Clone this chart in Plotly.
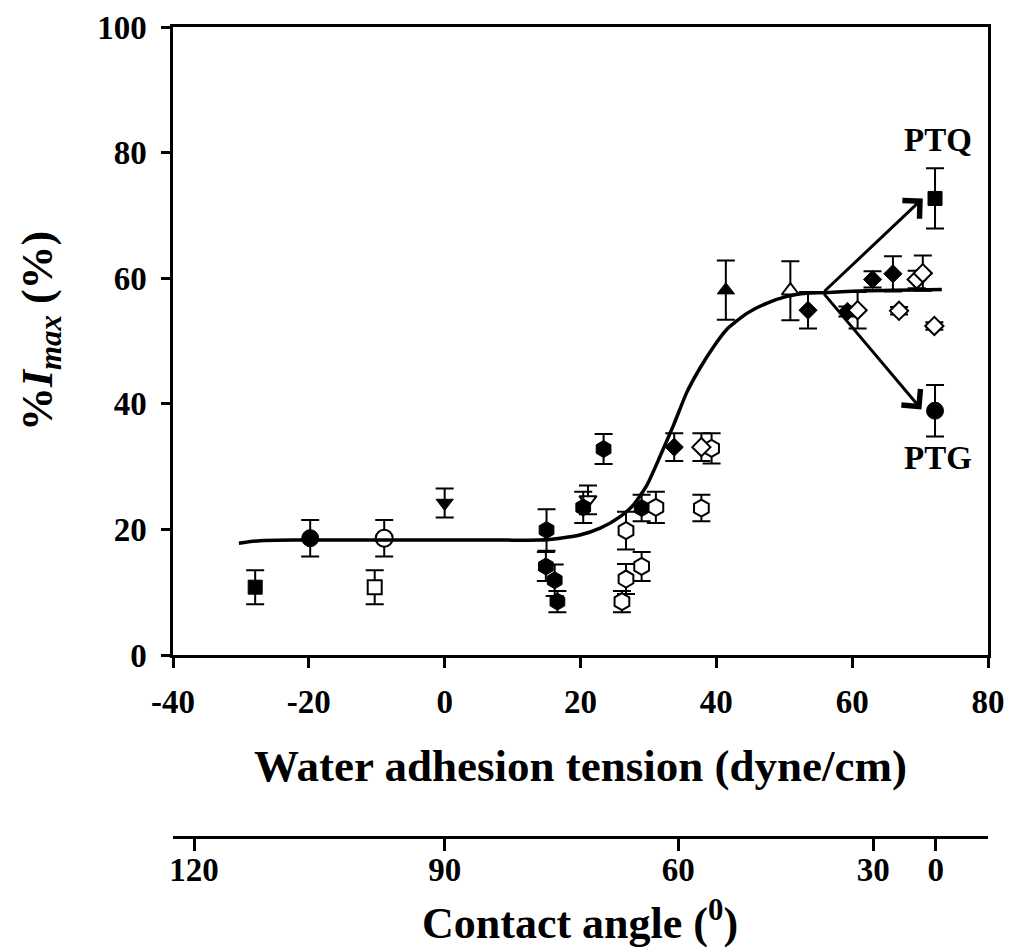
import plotly.graph_objects as go

# ---------------- data ----------------
filled_square_x = [-27.9, 72.2]
filled_square_y = [10.8, 72.7]
filled_square_err = [2.7, 4.8]

open_square_x = [-10.3]
open_square_y = [10.8]
open_square_err = [2.7]

filled_circle_x = [-19.8, 72.2]
filled_circle_y = [18.6, 38.9]
filled_circle_err = [2.9, 4.1]

open_circle_x = [-8.9]
open_circle_y = [18.6]
open_circle_err = [2.9]

filled_tri_down_x = [0.0]
filled_tri_down_y = [24.2]
filled_tri_down_err = [2.3]

open_tri_down_x = [21.1]
open_tri_down_y = [24.7]
open_tri_down_err = [2.3]

filled_hex_x = [15.0, 14.9, 16.2, 16.6, 20.4, 23.4, 29.0]
filled_hex_y = [19.9, 14.1, 11.9, 8.5, 23.5, 32.8, 23.4]
filled_hex_err = [3.3, 2.3, 2.5, 1.7, 2.5, 2.4, 2.1]

open_hex_x = [26.1, 26.7, 29.0, 26.7, 31.1, 37.8, 39.3]
open_hex_y = [8.5, 12.1, 14.1, 19.8, 23.5, 23.4, 32.9]
open_hex_err = [1.7, 2.4, 2.3, 3.0, 2.5, 2.1, 2.4]

filled_tri_up_x = [41.4]
filled_tri_up_y = [58.1]
filled_tri_up_err = [4.7]

open_tri_up_x = [50.9]
open_tri_up_y = [58.0]
open_tri_up_err = [4.7]

filled_diamond_x = [33.8, 53.5, 59.3, 63.0, 66.0]
filled_diamond_y = [33.1, 54.9, 54.7, 59.8, 60.7]
filled_diamond_err = [2.2, 2.9, 0.8, 1.3, 2.8]

open_diamond_x = [37.8, 60.8, 66.9, 69.5, 70.4, 72.1]
open_diamond_y = [33.1, 54.9, 54.8, 59.8, 60.8, 52.4]
open_diamond_err = [2.2, 2.9, 0.6, 1.4, 2.8, 0.6]

# fitted curve, points
curve_x = [-30.3, -27.2, -21.3, -6.6, 8.2, 14.0, 17.0, 19.9, 22.9, 25.8, 27.8,
           29.8, 31.7, 33.7, 35.6, 37.6, 39.6, 41.5, 44.5, 47.4, 50.4, 53.3,
           55.8, 62.1, 73.2]
curve_y = [17.8, 18.2, 18.3, 18.3, 18.3, 18.3, 18.6, 19.1, 20.2, 22.0, 23.9,
           27.1, 31.6, 36.6, 41.7, 45.7, 49.1, 51.8, 54.4, 56.0, 57.1, 57.6,
           57.7, 58.0, 58.2]

# arrows (tail on the curve, heads at PTQ / PTG)
arrow_tail = (55.7, 57.7)
arrow_heads = [(70.4, 72.7), (70.2, 39.1)]
point_labels = ["PTQ", "PTG"]
point_label_pos = [(72.6, 82.0), (72.6, 31.4)]

# x ticks / y ticks
x_ticks = [-40, -20, 0, 20, 40, 60, 80]
x_tick_text = ["-40", "-20", "0", "20", "40", "60", "80"]
y_ticks = [0, 20, 40, 60, 80, 100]
# secondary (contact angle) axis: tick positions in adhesion-tension units
angle_tick_pos = [-36.9, 0.0, 34.4, 63.1, 72.3]
angle_tick_text = ["120", "90", "60", "30", "0"]

FONT = "Liberation Serif, Times New Roman, serif"

# ---------------- figure ----------------
fig = go.Figure()

series = [
    (filled_square_x, filled_square_y, filled_square_err, "square", 14, True),
    (open_square_x, open_square_y, open_square_err, "square", 14, False),
    (filled_circle_x, filled_circle_y, filled_circle_err, "circle", 17, True),
    (open_circle_x, open_circle_y, open_circle_err, "circle", 17, False),
    (filled_tri_down_x, filled_tri_down_y, filled_tri_down_err, "triangle-down", 15, True),
    (open_tri_down_x, open_tri_down_y, open_tri_down_err, "triangle-down", 15, False),
    (filled_hex_x, filled_hex_y, filled_hex_err, "hexagon", 17, True),
    (open_hex_x, open_hex_y, open_hex_err, "hexagon", 17, False),
    (filled_tri_up_x, filled_tri_up_y, filled_tri_up_err, "triangle-up", 15, True),
    (open_tri_up_x, open_tri_up_y, open_tri_up_err, "triangle-up", 15, False),
    (filled_diamond_x, filled_diamond_y, filled_diamond_err, "diamond", 14, True),
    (open_diamond_x, open_diamond_y, open_diamond_err, "diamond", 14, False),
]

for xs, ys, es, sym, sz, filled in series:
    fig.add_trace(go.Scatter(
        x=xs, y=ys, mode="markers",
        marker=dict(symbol=sym, size=sz,
                    color="black" if filled else "white",
                    line=dict(color="black", width=1 if filled else 2)),
        error_y=dict(type="data", array=es, visible=True, color="black",
                     thickness=2, width=9),
        showlegend=False, hoverinfo="skip",
    ))

fig.add_trace(go.Scatter(
    x=curve_x, y=curve_y, mode="lines",
    line=dict(color="black", width=3.5, shape="spline", smoothing=0.6),
    showlegend=False, hoverinfo="skip",
))

# invisible trace to activate the secondary x-axis
fig.add_trace(go.Scatter(
    x=[x_ticks[0], x_ticks[-1]], y=[None, None], xaxis="x2", yaxis="y",
    mode="markers", marker=dict(opacity=0), showlegend=False, hoverinfo="skip",
))

annotations = []
for (hx, hy) in arrow_heads:
    annotations.append(dict(
        x=hx, y=hy, ax=arrow_tail[0], ay=arrow_tail[1],
        xref="x", yref="y", axref="x", ayref="y",
        showarrow=True, arrowhead=4, arrowsize=1.6, arrowwidth=3,
        arrowcolor="black", text="",
    ))
for lab, (lx, ly) in zip(point_labels, point_label_pos):
    annotations.append(dict(
        x=lx, y=ly, xref="x", yref="y", text=lab, showarrow=False,
        font=dict(family=FONT, size=33, color="black", weight="bold"),
        xanchor="center", yanchor="middle",
    ))

H = 952
TOP = 27
paper_h = H - TOP

def py(pix):
    return (H - pix) / paper_h

annotations.append(dict(
    x=0.5, y=py(766), xref="paper", yref="paper",
    text="Water adhesion tension (dyne/cm)", showarrow=False,
    font=dict(family=FONT, size=45, color="black", weight="bold"),
    xanchor="center", yanchor="middle",
))
annotations.append(dict(
    x=(580 - 173) / 815, y=py(920), xref="paper", yref="paper",
    text="Contact angle (<sup>0</sup>)", showarrow=False,
    font=dict(family=FONT, size=44, color="black", weight="bold"),
    xanchor="center", yanchor="middle",
))
annotations.append(dict(
    x=(40 - 173) / 815, y=py(331), xref="paper", yref="paper",
    text="%<i>I</i><sub><i>max</i></sub> (%)", showarrow=False, textangle=-90,
    font=dict(family=FONT, size=44, color="black", weight="bold"),
    xanchor="center", yanchor="middle",
))

tickfont = dict(family=FONT, size=33, color="black", weight="bold")

fig.update_layout(
    width=1015, height=H,
    margin=dict(l=173, r=27, t=TOP, b=0),
    paper_bgcolor="white", plot_bgcolor="white",
    annotations=annotations,
    xaxis=dict(
        range=[x_ticks[0], x_ticks[-1]], tickvals=x_ticks, ticktext=x_tick_text,
        ticks="outside", ticklen=10, tickwidth=2.5, tickcolor="black",
        showline=True, linewidth=2.5, linecolor="black", mirror=True,
        showgrid=False, zeroline=False, tickfont=tickfont,
        ticklabelstandoff=6, automargin=False, fixedrange=True,
    ),
    xaxis2=dict(
        overlaying="x", anchor="free", position=py(837), side="bottom",
        range=[x_ticks[0], x_ticks[-1]], tickvals=angle_tick_pos,
        ticktext=angle_tick_text,
        ticks="outside", ticklen=12, tickwidth=2.5, tickcolor="black",
        showline=True, linewidth=2.5, linecolor="black",
        showgrid=False, zeroline=False, tickfont=tickfont,
        ticklabelstandoff=-9, automargin=False,
    ),
    yaxis=dict(
        domain=[py(655), 1], range=[y_ticks[0], y_ticks[-1]], tickvals=y_ticks,
        ticks="outside", ticklen=9, tickwidth=2.5, tickcolor="black",
        showline=True, linewidth=2.5, linecolor="black", mirror=True,
        showgrid=False, zeroline=False, tickfont=tickfont,
        ticklabelstandoff=8, automargin=False,
    ),
)

fig.write_html(
    "out.html",
    config={"displayModeBar": False},
    post_script="document.body.style.margin='0';document.body.style.overflow='hidden';",
)
